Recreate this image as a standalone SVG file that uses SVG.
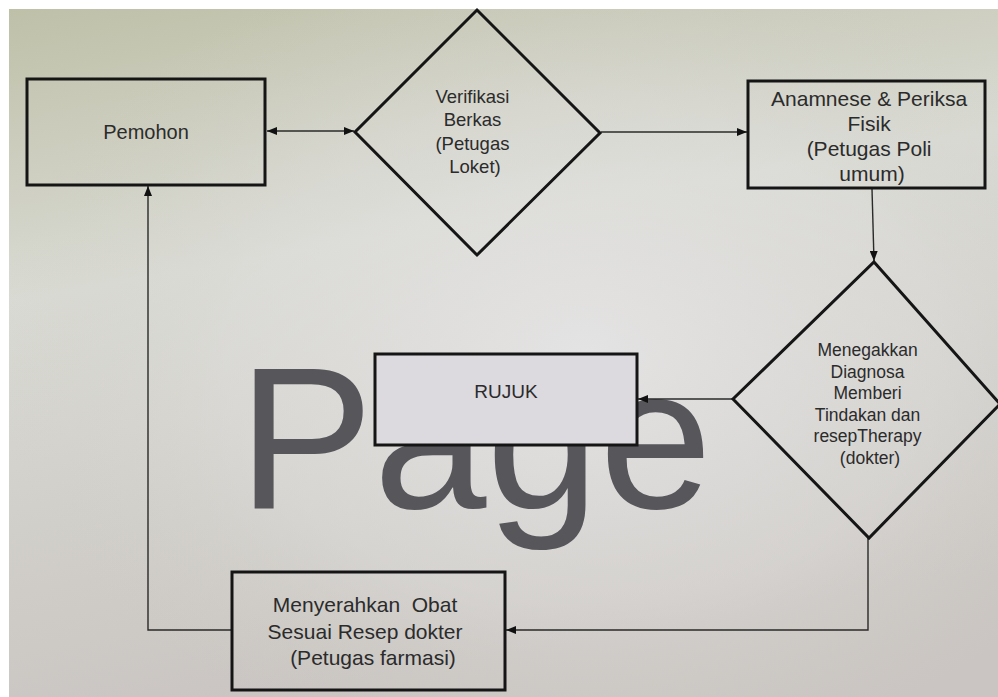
<svg xmlns="http://www.w3.org/2000/svg" width="998" height="697" viewBox="0 0 998 697">
<defs>
  <linearGradient id="bg" x1="0" y1="0" x2="0.25" y2="1">
    <stop offset="0" stop-color="#bfc0a8"/>
    <stop offset="0.4" stop-color="#d9dad3"/>
    <stop offset="1" stop-color="#cac5c2"/>
  </linearGradient>
  <radialGradient id="hl" cx="0.58" cy="0.5" r="0.6">
    <stop offset="0" stop-color="#e6e5e6" stop-opacity="0.9"/>
    <stop offset="0.6" stop-color="#dedddb" stop-opacity="0.5"/>
    <stop offset="1" stop-color="#d0cfc6" stop-opacity="0"/>
  </radialGradient>
  <marker id="arr" viewBox="0 0 10 8" refX="10" refY="4" markerWidth="10" markerHeight="8" markerUnits="userSpaceOnUse" orient="auto-start-reverse">
    <path d="M0,0 L10,4 L0,8 Z" fill="#111"/>
  </marker>
  <style>
    .shape{fill:none;stroke:#151515;stroke-width:3;stroke-linejoin:miter}
    .conn{fill:none;stroke:#2a2a2a;stroke-width:1.4}
    .t{font-family:"Liberation Sans",Arial,sans-serif;fill:#2b2b2b;text-anchor:middle}
    .wm{font-family:"Liberation Sans",Arial,sans-serif;fill:#57565b;font-size:203px}
  </style>
</defs>
<rect width="998" height="697" fill="#ffffff"/>
<rect x="9" y="9" width="989" height="688" fill="url(#bg)"/>
<rect x="9" y="9" width="989" height="688" fill="url(#hl)"/>

<text class="wm" x="238" y="508">Page</text>

<g id="connectors">
  <line class="conn" x1="267" y1="131" x2="354" y2="131" marker-start="url(#arr)" marker-end="url(#arr)"/>
  <line class="conn" x1="601" y1="132" x2="747" y2="132" marker-end="url(#arr)"/>
  <line class="conn" x1="872" y1="189" x2="874" y2="261" marker-end="url(#arr)"/>
  <line class="conn" x1="733" y1="399" x2="638" y2="399" marker-end="url(#arr)"/>
  <polyline class="conn" points="868,538 868,630 506,630" marker-end="url(#arr)"/>
  <polyline class="conn" points="231,630 148,630 148,186" marker-end="url(#arr)"/>
</g>

<g id="pemohon">
  <rect class="shape" x="27" y="79" width="238" height="106"/>
  <text class="t" x="146" y="139" font-size="20">Pemohon</text>
</g>

<g id="verifikasi">
  <polygon class="shape" points="477,10 600,133 477,255 355,132"/>
  <text class="t" font-size="18.5">
    <tspan x="475" y="103">Verifikasi</tspan>
    <tspan x="475" y="126">Berkas</tspan>
    <tspan x="475" y="150">(Petugas</tspan>
    <tspan x="475" y="173">Loket)</tspan>
  </text>
</g>

<g id="anamnese">
  <rect class="shape" x="748" y="81" width="237" height="107"/>
  <text class="t" font-size="21">
    <tspan x="872" y="106">Anamnese &amp; Periksa</tspan>
    <tspan x="872" y="131">Fisik</tspan>
    <tspan x="872" y="156">(Petugas Poli</tspan>
    <tspan x="872" y="181">umum)</tspan>
  </text>
</g>

<g id="diagnosa">
  <polygon class="shape" points="874,262 1000,404 869,538 733,399"/>
  <text class="t" font-size="17.5">
    <tspan x="870" y="356">Menegakkan</tspan>
    <tspan x="870" y="378">Diagnosa</tspan>
    <tspan x="870" y="399">Memberi</tspan>
    <tspan x="870" y="421">Tindakan dan</tspan>
    <tspan x="870" y="442">resepTherapy</tspan>
    <tspan x="870" y="464">(dokter)</tspan>
  </text>
</g>

<g id="rujuk">
  <rect class="shape" x="375" y="354" width="262" height="91" style="fill:#dcd9df"/>
  <text class="t" x="506" y="398" font-size="19">RUJUK</text>
</g>

<g id="menyerahkan">
  <rect class="shape" x="232" y="572" width="273" height="118"/>
  <text class="t" font-size="21">
    <tspan x="368" y="612" xml:space="preserve">Menyerahkan  Obat</tspan>
    <tspan x="368" y="639">Sesuai Resep dokter</tspan>
    <tspan x="373" y="665">(Petugas farmasi)</tspan>
  </text>
</g>
</svg>
